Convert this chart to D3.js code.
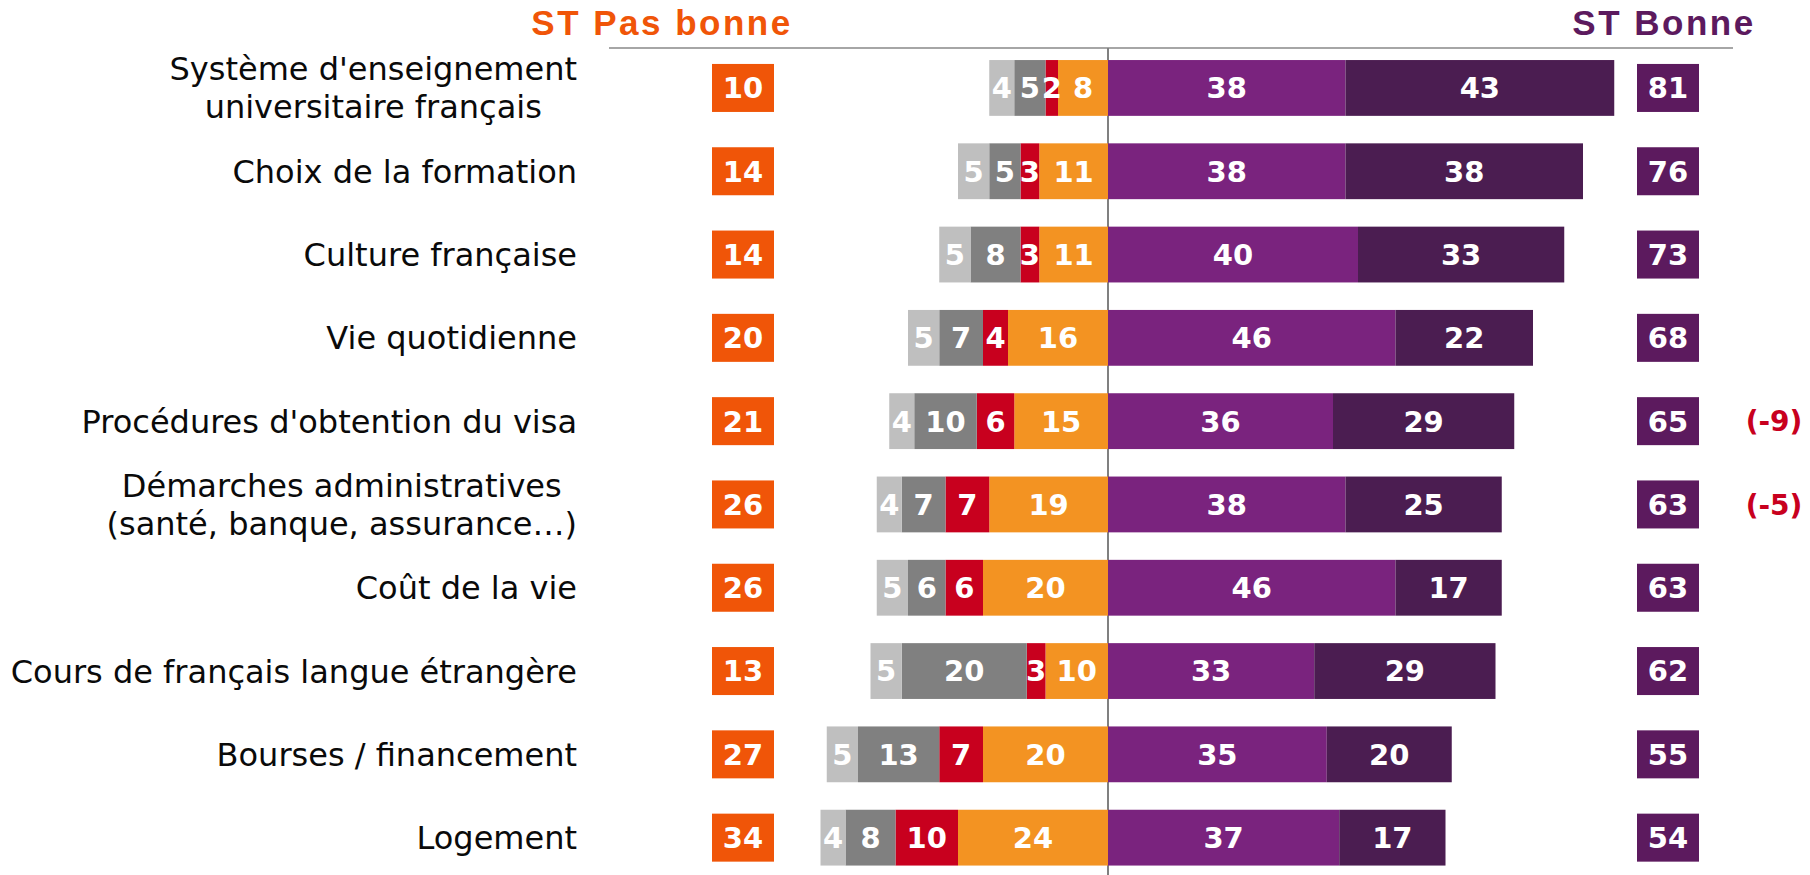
<!DOCTYPE html>
<html lang="fr">
<head>
<meta charset="utf-8">
<script src="https://cdn.jsdelivr.net/npm/d3@7"></script>
<style>
  html, body { margin: 0; padding: 0; background: #fff; }
  svg { display: block; }
</style>
</head>
<body>
<svg id="chart" width="1810" height="875"></svg>
<script>
// Perception des différents aspects du séjour
const categories = [
  "Système d'enseignement\nuniversitaire français",
  "Choix de la formation",
  "Culture française",
  "Vie quotidienne",
  "Procédures d'obtention du visa",
  "Démarches administratives\n(santé, banque, assurance…)",
  "Coût de la vie",
  "Cours de français langue étrangère",
  "Bourses / financement",
  "Logement"
];
const nonConcerne   = [4, 5, 5, 5, 4, 4, 5, 5, 5, 4];
const nspp          = [5, 5, 8, 7, 10, 7, 6, 20, 13, 8];
const pasDuTout     = [2, 3, 3, 4, 6, 7, 6, 3, 7, 10];
const plutotPas     = [8, 11, 11, 16, 15, 19, 20, 10, 20, 24];
const plutotBonne   = [38, 38, 40, 46, 36, 38, 46, 33, 35, 37];
const tresBonne     = [43, 38, 33, 22, 29, 25, 17, 29, 20, 17];
const stPasBonne    = [10, 14, 14, 20, 21, 26, 26, 13, 27, 34];
const stBonne       = [81, 76, 73, 68, 65, 63, 63, 62, 55, 54];
const evolutions    = ["", "", "", "", "(-9)", "(-5)", "", "", "", ""];

const colors = {
  nonConcerne: "#BFBFBF",
  nspp: "#808080",
  pasDuTout: "#C8001E",
  plutotPas: "#F39322",
  plutotBonne: "#7A237E",
  tresBonne: "#4B1D51",
  boxPas: "#F05508",
  boxBonne: "#5C1A5E",
  evol: "#C8001E"
};

const svg = d3.select("#chart");
const x = d3.scaleLinear().domain([-50, 100]).range([795.5, 1733]);
const y = d3.scaleBand().domain(d3.range(categories.length))
  .range([46.3, 879.3]).paddingInner(0.33).paddingOuter(0.165);

// Header rule and centre axis
svg.append("line").attr("x1", 609).attr("x2", x(100)).attr("y1", 48).attr("y2", 48)
  .attr("stroke", "#A6A6A6").attr("stroke-width", 2);
svg.append("line").attr("x1", x(0)).attr("x2", x(0)).attr("y1", 48).attr("y2", 875)
  .attr("stroke", "#808080").attr("stroke-width", 2);

// Headers
svg.append("text").attr("x", 662).attr("y", 35).attr("text-anchor", "middle")
  .attr("font-family", "Liberation Sans, Arial, sans-serif").attr("font-weight", "bold")
  .attr("font-size", 35).attr("letter-spacing", 2.5).attr("fill", colors.boxPas)
  .text("ST Pas bonne");
svg.append("text").attr("x", 1664).attr("y", 35).attr("text-anchor", "middle")
  .attr("font-family", "Liberation Sans, Arial, sans-serif").attr("font-weight", "bold")
  .attr("font-size", 35).attr("letter-spacing", 2.5).attr("fill", colors.boxBonne)
  .text("ST Bonne");

// Build stacked segments: negative side grows outward from the centre
const segs = [];
categories.forEach((c, i) => {
  let left = 0;
  [["plutotPas", plutotPas], ["pasDuTout", pasDuTout], ["nspp", nspp], ["nonConcerne", nonConcerne]]
    .forEach(([k, arr]) => {
      segs.push({ i, key: k, x0: -(left + arr[i]), x1: -left, v: arr[i] });
      left += arr[i];
    });
  let right = 0;
  [["plutotBonne", plutotBonne], ["tresBonne", tresBonne]].forEach(([k, arr]) => {
    segs.push({ i, key: k, x0: right, x1: right + arr[i], v: arr[i] });
    right += arr[i];
  });
});

const bh = y.bandwidth();
svg.append("g").selectAll("rect").data(segs).join("rect")
  .attr("x", d => x(d.x0)).attr("width", d => x(d.x1) - x(d.x0))
  .attr("y", d => y(d.i)).attr("height", bh)
  .attr("fill", d => colors[d.key]);

const valFont = "DejaVu Sans, Verdana, sans-serif";
svg.append("g").selectAll("text").data(segs).join("text")
  .attr("x", d => (x(d.x0) + x(d.x1)) / 2)
  .attr("y", d => y(d.i) + bh / 2)
  .attr("dy", "0.36em").attr("text-anchor", "middle")
  .attr("font-family", valFont).attr("font-weight", "bold").attr("font-size", 29)
  .attr("fill", "#fff").text(d => d.v);

// Category labels
const labels = svg.append("g").selectAll("text").data(categories).join("text")
  .attr("font-family", valFont).attr("font-size", 32).attr("fill", "#0a0a0a");
labels.each(function (c, i) {
  const lines = c.split("\n");
  const t = d3.select(this);
  const cy = y(i) + bh / 2;
  if (lines.length === 1) {
    t.attr("x", 577).attr("y", cy).attr("dy", "0.36em").attr("text-anchor", "end").text(c);
  } else {
    t.attr("text-anchor", "middle");
    const spans = t.selectAll("tspan").data(lines).join("tspan").text(d => d);
    let w = 0;
    spans.each(function () { w = Math.max(w, this.getComputedTextLength()); });
    spans.attr("x", 577 - w / 2)
      .attr("y", (d, k) => cy + (k - (lines.length - 1) / 2) * 38)
      .attr("dy", "0.36em");
  }
});

// Summary boxes
const boxW = 62, boxH = 48;
function boxes(values, cx, fill) {
  const g = svg.append("g");
  g.selectAll("rect").data(values).join("rect")
    .attr("x", cx - boxW / 2).attr("y", (d, i) => y(i) + bh / 2 - boxH / 2)
    .attr("width", boxW).attr("height", boxH).attr("fill", fill);
  g.selectAll("text").data(values).join("text")
    .attr("x", cx).attr("y", (d, i) => y(i) + bh / 2).attr("dy", "0.36em")
    .attr("text-anchor", "middle").attr("font-family", valFont)
    .attr("font-weight", "bold").attr("font-size", 29).attr("fill", "#fff")
    .text(d => d);
}
boxes(stPasBonne, 743, colors.boxPas);
boxes(stBonne, 1668, colors.boxBonne);

// Evolution notes
svg.append("g").selectAll("text").data(evolutions).join("text")
  .attr("x", 1774).attr("y", (d, i) => y(i) + bh / 2).attr("dy", "0.36em")
  .attr("text-anchor", "middle").attr("font-family", valFont)
  .attr("font-weight", "bold").attr("font-size", 28).attr("fill", colors.evol)
  .text(d => d);
</script>
</body>
</html>
